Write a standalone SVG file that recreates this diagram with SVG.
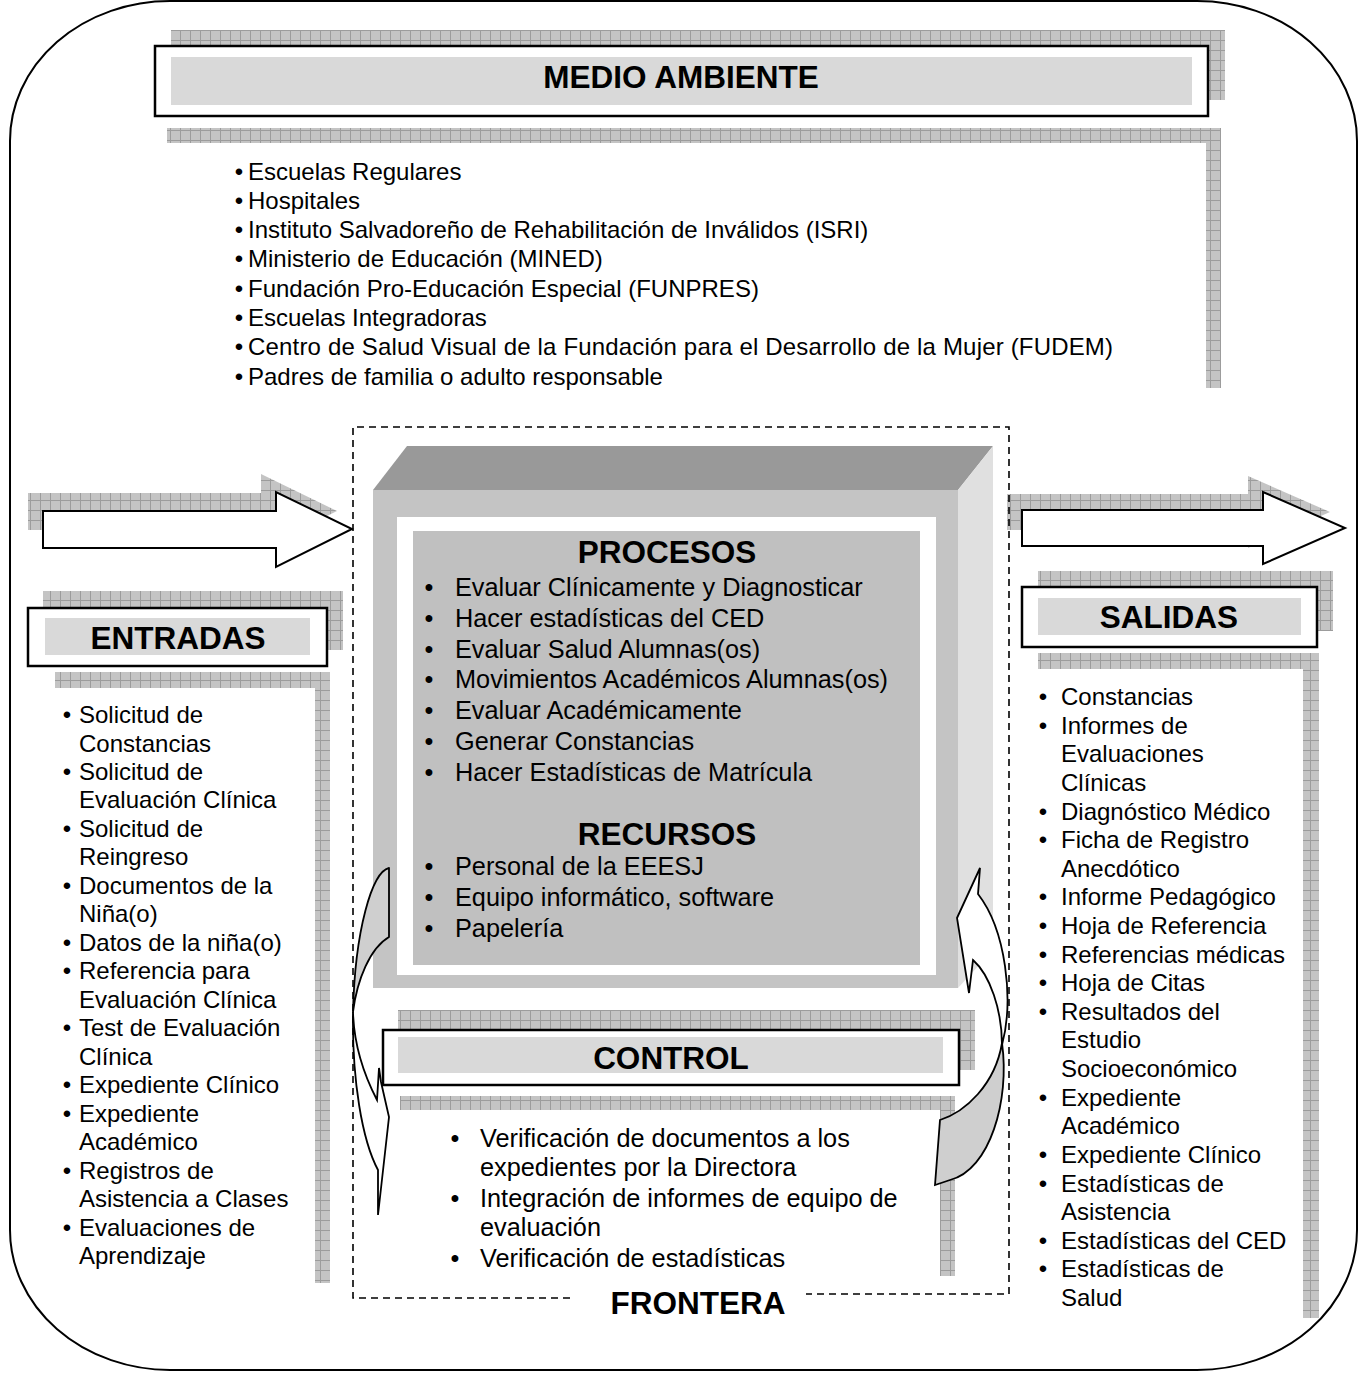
<svg xmlns="http://www.w3.org/2000/svg" width="1366" height="1373" viewBox="0 0 1366 1373">
<style>
text{font-family:"Liberation Sans",Arial,sans-serif;fill:#000}
.t{font-size:31.5px;font-weight:bold;text-anchor:middle}
.b{font-size:24px}
.b2{font-size:25.3px}
.bl{text-anchor:middle}
.tex{fill:url(#tex)}
.box{fill:#fff;stroke:#000;stroke-width:2.5}
.in{fill:#d9d9d9}
.ln{fill:none;stroke:#000;stroke-width:2}
.dash{fill:none;stroke:#000;stroke-width:1.6;stroke-dasharray:7 5}
</style>
<defs>
<pattern id="tex" patternUnits="userSpaceOnUse" width="10" height="10">
<rect width="10" height="10" fill="#c4c4c4"/>
<path d="M0 0.5H10M0.5 0V10" stroke="#9c9c9c" stroke-width="1"/>
</pattern>
</defs>
<rect x="0" y="0" width="1366" height="1373" fill="#fff"/>
<rect x="10" y="1" width="1347" height="1369" rx="160" ry="140" class="ln"/>

<g id="medio-ambiente">
<rect x="171" y="30" width="1054" height="70" class="tex"/>
<rect x="155" y="46" width="1053" height="70" class="box"/>
<rect x="171" y="57" width="1021" height="48" class="in"/>
<rect x="167" y="128" width="1054" height="15" class="tex"/>
<rect x="1206" y="128" width="15" height="260" class="tex"/>
<text x="681" y="88" class="t">MEDIO AMBIENTE</text>
<g class="b">
<text x="239" y="180" class="bl">•</text><text x="248" y="180">Escuelas Regulares</text>
<text x="239" y="209" class="bl">•</text><text x="248" y="209">Hospitales</text>
<text x="239" y="238" class="bl">•</text><text x="248" y="238">Instituto Salvadoreño de Rehabilitación de Inválidos (ISRI)</text>
<text x="239" y="267" class="bl">•</text><text x="248" y="267">Ministerio de Educación (MINED)</text>
<text x="239" y="297" class="bl">•</text><text x="248" y="297">Fundación Pro-Educación Especial (FUNPRES)</text>
<text x="239" y="326" class="bl">•</text><text x="248" y="326">Escuelas Integradoras</text>
<text x="239" y="355" class="bl">•</text><text x="248" y="355" textLength="865">Centro de Salud Visual de la Fundación para el Desarrollo de la Mujer (FUDEM)</text>
<text x="239" y="385" class="bl">•</text><text x="248" y="385">Padres de familia o adulto responsable</text>
</g>
</g>

<g id="arrow-in">
<polygon points="28,493 261,493 261,474 337,511 261,549 261,530 28,530" class="tex"/>
<polygon points="43,511 276,511 276,492 352,529 276,567 276,548 43,548" class="box" style="stroke-width:2"/>
</g>

<g id="arrow-out">
<polygon points="1007,494 1248,494 1248,476 1330,512 1248,548 1248,530 1007,530" class="tex"/>
<polygon points="1022,510 1263,510 1263,492 1345,528 1263,564 1263,546 1022,546" class="box" style="stroke-width:2"/>
</g>

<g id="entradas">
<rect x="43" y="591" width="300" height="59" class="tex"/>
<rect x="28" y="608" width="299" height="58" class="box"/>
<rect x="45" y="618" width="265" height="37" class="in"/>
<rect x="55" y="672" width="275" height="16" class="tex"/>
<rect x="315" y="672" width="15" height="611" class="tex"/>
<text x="178" y="649" class="t">ENTRADAS</text>
<g class="b">
<text x="67" y="723" class="bl">•</text><text x="79" y="723">Solicitud de</text>
<text x="79" y="751.5">Constancias</text>
<text x="67" y="780" class="bl">•</text><text x="79" y="780">Solicitud de</text>
<text x="79" y="808.4">Evaluación Clínica</text>
<text x="67" y="837" class="bl">•</text><text x="79" y="837">Solicitud de</text>
<text x="79" y="865.4">Reingreso</text>
<text x="67" y="894" class="bl">•</text><text x="79" y="894">Documentos de la</text>
<text x="79" y="922.4">Niña(o)</text>
<text x="67" y="951" class="bl">•</text><text x="79" y="951">Datos de la niña(o)</text>
<text x="67" y="979.3" class="bl">•</text><text x="79" y="979.3">Referencia para</text>
<text x="79" y="1007.8">Evaluación Clínica</text>
<text x="67" y="1036.3" class="bl">•</text><text x="79" y="1036.3">Test de Evaluación</text>
<text x="79" y="1064.8">Clínica</text>
<text x="67" y="1093.2" class="bl">•</text><text x="79" y="1093.2">Expediente Clínico</text>
<text x="67" y="1121.7" class="bl">•</text><text x="79" y="1121.7">Expediente</text>
<text x="79" y="1150.2">Académico</text>
<text x="67" y="1178.7" class="bl">•</text><text x="79" y="1178.7">Registros de</text>
<text x="79" y="1207.2">Asistencia a Clases</text>
<text x="67" y="1235.6" class="bl">•</text><text x="79" y="1235.6">Evaluaciones de</text>
<text x="79" y="1264">Aprendizaje</text>
</g>
</g>

<g id="salidas">
<rect x="1038" y="571" width="295" height="60" class="tex"/>
<rect x="1022" y="587" width="295" height="60" class="box"/>
<rect x="1038" y="598" width="263" height="37" class="in"/>
<rect x="1038" y="653" width="281" height="16" class="tex"/>
<rect x="1303" y="653" width="16" height="665" class="tex"/>
<text x="1169" y="628" class="t">SALIDAS</text>
<g class="b">
<text x="1043" y="705" class="bl">•</text><text x="1061" y="705">Constancias</text>
<text x="1043" y="733.6" class="bl">•</text><text x="1061" y="733.6">Informes de</text>
<text x="1061" y="762.2">Evaluaciones</text>
<text x="1061" y="790.9">Clínicas</text>
<text x="1043" y="819.5" class="bl">•</text><text x="1061" y="819.5">Diagnóstico Médico</text>
<text x="1043" y="848.1" class="bl">•</text><text x="1061" y="848.1">Ficha de Registro</text>
<text x="1061" y="876.7">Anecdótico</text>
<text x="1043" y="905.3" class="bl">•</text><text x="1061" y="905.3">Informe Pedagógico</text>
<text x="1043" y="934" class="bl">•</text><text x="1061" y="934">Hoja de Referencia</text>
<text x="1043" y="962.6" class="bl">•</text><text x="1061" y="962.6">Referencias médicas</text>
<text x="1043" y="991.2" class="bl">•</text><text x="1061" y="991.2">Hoja de Citas</text>
<text x="1043" y="1019.8" class="bl">•</text><text x="1061" y="1019.8">Resultados del</text>
<text x="1061" y="1048.4">Estudio</text>
<text x="1061" y="1077">Socioeconómico</text>
<text x="1043" y="1105.7" class="bl">•</text><text x="1061" y="1105.7">Expediente</text>
<text x="1061" y="1134.3">Académico</text>
<text x="1043" y="1162.9" class="bl">•</text><text x="1061" y="1162.9">Expediente Clínico</text>
<text x="1043" y="1191.5" class="bl">•</text><text x="1061" y="1191.5">Estadísticas de</text>
<text x="1061" y="1220.1">Asistencia</text>
<text x="1043" y="1248.8" class="bl">•</text><text x="1061" y="1248.8">Estadísticas del CED</text>
<text x="1043" y="1277.4" class="bl">•</text><text x="1061" y="1277.4">Estadísticas de</text>
<text x="1061" y="1306">Salud</text>
</g>
</g>

<g id="procesos">
<polygon points="373,490 407,446 993,446 958,490" fill="#999"/>
<polygon points="958,490 993,446 993,950 958,988" fill="#e0e0e0"/>
<rect x="373" y="490" width="585" height="498" fill="#c4c4c4"/>
<rect x="397" y="517" width="539" height="458" fill="#fff"/>
<rect x="413" y="531" width="507" height="434" fill="#c0c0c0"/>
<text x="667" y="563" class="t">PROCESOS</text>
<g class="b2">
<text x="429" y="596" class="bl">•</text><text x="455" y="596">Evaluar Clínicamente y Diagnosticar</text>
<text x="429" y="626.8" class="bl">•</text><text x="455" y="626.8">Hacer estadísticas del CED</text>
<text x="429" y="657.6" class="bl">•</text><text x="455" y="657.6">Evaluar Salud Alumnas(os)</text>
<text x="429" y="688.4" class="bl">•</text><text x="455" y="688.4">Movimientos Académicos Alumnas(os)</text>
<text x="429" y="719.2" class="bl">•</text><text x="455" y="719.2">Evaluar Académicamente</text>
<text x="429" y="750" class="bl">•</text><text x="455" y="750">Generar Constancias</text>
<text x="429" y="780.8" class="bl">•</text><text x="455" y="780.8">Hacer Estadísticas de Matrícula</text>
</g>
<text x="667" y="845" class="t">RECURSOS</text>
<g class="b2">
<text x="429" y="875" class="bl">•</text><text x="455" y="875">Personal de la EEESJ</text>
<text x="429" y="906" class="bl">•</text><text x="455" y="906">Equipo informático, software</text>
<text x="429" y="937" class="bl">•</text><text x="455" y="937">Papelería</text>
</g>
</g>

<g id="control">
<rect x="398" y="1010" width="577" height="60" class="tex"/>
<rect x="383" y="1030" width="576" height="55" class="box"/>
<rect x="398" y="1037" width="545" height="36" class="in"/>
<rect x="400" y="1096" width="555" height="14" class="tex"/>
<rect x="940" y="1096" width="15" height="180" class="tex"/>
<text x="671" y="1069" class="t">CONTROL</text>
<g class="b2">
<text x="455" y="1147" class="bl">•</text><text x="480" y="1147">Verificación de documentos a los</text>
<text x="480" y="1176">expedientes por la Directora</text>
<text x="455" y="1207" class="bl">•</text><text x="480" y="1207">Integración de informes de equipo de</text>
<text x="480" y="1236">evaluación</text>
<text x="455" y="1267" class="bl">•</text><text x="480" y="1267">Verificación de estadísticas</text>
</g>
</g>

<g id="connectors">
<path d="M389,868 C372,872 355,930 353,1012 C357,980 370,948 389,937 Z" fill="#cfcfcf" stroke="#000" stroke-width="1.8" stroke-linejoin="round"/>
<path d="M353,1012 C352,1080 362,1140 378,1170 L378,1215 L389,1117 L381,1082 L379,1068 L377,1100 C364,1075 354,1045 353,1012 Z" fill="#fff" stroke="#000" stroke-width="1.8"/>
<path d="M940,1120 C965,1112 995,1085 1002,1043 C1010,1100 990,1170 950,1180 L935,1185 Z" fill="#cfcfcf" stroke="#000" stroke-width="1.8"/>
<path d="M1002,1045 C1014,1000 1006,930 978,894 L980,868 L957,918 L969,993 L973,960 C990,975 1002,1010 1002,1045 Z" fill="#fff" stroke="#000" stroke-width="1.8"/>
</g>

<g id="frontera">
<path d="M570,1298 H353 V427 H1009 V1294 H806" class="dash"/>
<text x="698" y="1314" class="t">FRONTERA</text>
</g>
</svg>
